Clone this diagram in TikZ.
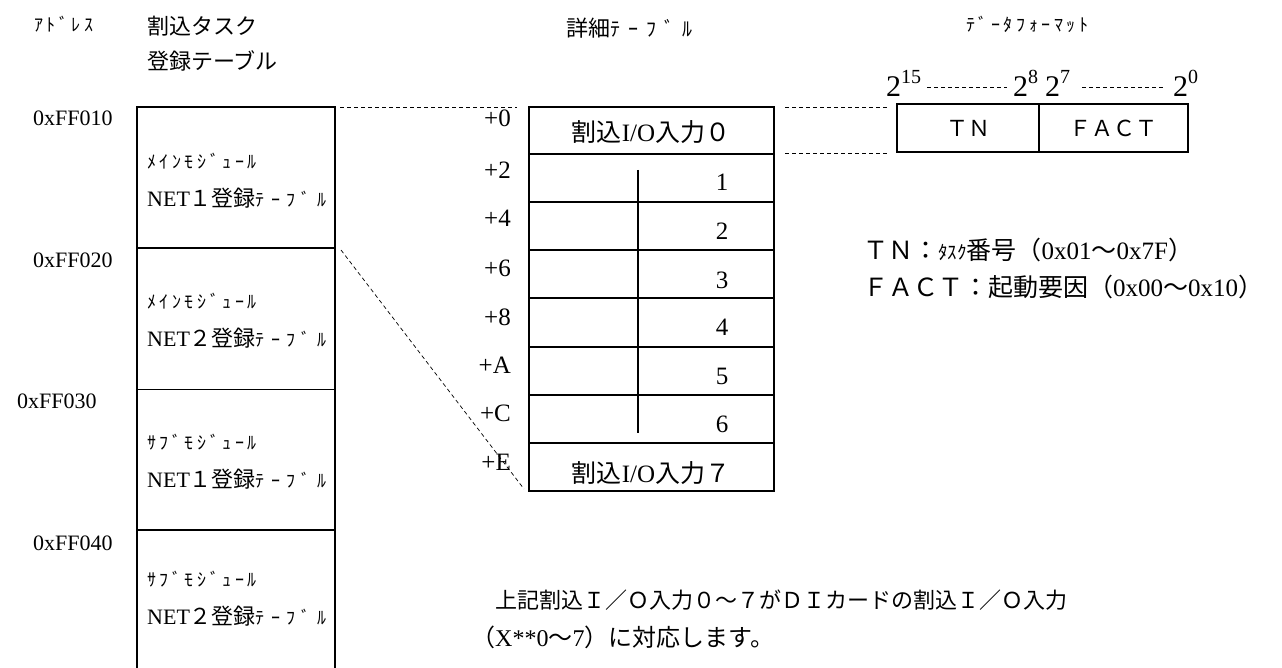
\documentclass[tikz,border=0pt]{standalone}
\usepackage{fontspec}
\setmainfont{Liberation Serif}
\newfontfamily\jpf{Noto Sans CJK JP}
\newfontfamily\hkf{Noto Sans CJK JP}[LetterSpace=20]
\newfontfamily\hkwf{Noto Sans CJK JP}[LetterSpace=35]
\newfontfamily\hkxf{Noto Sans CJK JP}[LetterSpace=40]
\newcommand\jp[1]{{\jpf #1}}
\newcommand\hk[1]{{\hkf\fontsize{18}{20}\selectfont #1}}
\newcommand\hkw[1]{{\hkwf\fontsize{18}{20}\selectfont #1}}
\newcommand\hkx[1]{{\hkxf\fontsize{20}{22}\selectfont #1}}
\begin{document}
\begin{tikzpicture}[x=1pt,y=-1pt,
  font=\fontsize{22}{26}\selectfont,
  tbl/.style={line width=1.6pt},
  thinl/.style={line width=0.9pt},
  dsh/.style={line width=0.7pt, dash pattern=on 4pt off 3pt},
  lbl/.style={anchor=west, inner sep=0pt},
  lblr/.style={anchor=east, inner sep=0pt, font=\fontsize{25}{28}\selectfont},
  cen/.style={inner sep=0pt},
  big/.style={font=\fontsize{25}{28}\selectfont},
  pw/.style={anchor=base west, inner sep=0pt, font=\fontsize{30}{32}\selectfont}]
\useasboundingbox (0,0) rectangle (1282,668);
% headers
\node[lbl] (hAddr) at (34,24) {\hk{ｱﾄﾞﾚｽ}};
\node[lbl] (hTask1) at (147,26) {\jp{割込タスク}};
\node[lbl] (hTask2) at (147,61) {\jp{登録テーブル}};
\node[lbl] (hDetail) at (566,28) {\jp{詳細}\hkx{ﾃｰﾌﾞﾙ}};
\node[lbl] (hFormat) at (966,24) {\hk{ﾃﾞｰﾀﾌｫｰﾏｯﾄ}};
% addresses
\node[lbl] (a1) at (33,118) {0xFF010};
\node[lbl] (a2) at (33,260) {0xFF020};
\node[lbl] (a3) at (17,401) {0xFF030};
\node[lbl] (a4) at (33,543) {0xFF040};
% left table
\draw[tbl] (137,668) -- (137,107) -- (335,107) -- (335,668);
\draw[tbl] (137,248) -- (335,248);
\draw[thinl] (137,389) -- (335,389);
\draw[tbl] (137,530) -- (335,530);
\coordinate (LTop) at (340,107);
\coordinate (LMid) at (341,250);
\node[lbl] (c1a) at (147,161) {\hk{ﾒｲﾝﾓｼﾞｭｰﾙ}};
\node[lbl] (c1b) at (147,198) {NET\jp{１登録}\hkw{ﾃｰﾌﾞﾙ}};
\node[lbl] (c2a) at (147,301) {\hk{ﾒｲﾝﾓｼﾞｭｰﾙ}};
\node[lbl] (c2b) at (147,338) {NET\jp{２登録}\hkw{ﾃｰﾌﾞﾙ}};
\node[lbl] (c3a) at (147,442) {\hk{ｻﾌﾞﾓｼﾞｭｰﾙ}};
\node[lbl] (c3b) at (147,479) {NET\jp{１登録}\hkw{ﾃｰﾌﾞﾙ}};
\node[lbl] (c4a) at (147,579) {\hk{ｻﾌﾞﾓｼﾞｭｰﾙ}};
\node[lbl] (c4b) at (147,616) {NET\jp{２登録}\hkw{ﾃｰﾌﾞﾙ}};
% middle table
\draw[tbl] (529,107) rectangle (774,491);
\foreach \yy in {154,202,250,298,347,395,443} {\draw[tbl] (529,\yy) -- (774,\yy);}
\draw[tbl] (638,170) -- (638,433);
\coordinate (MTopL) at (517,107);
\coordinate (MBotL) at (524,489);
\coordinate (MTopR) at (785,107);
\coordinate (MRowR) at (785,153);
\node[cen,big] (m0) at (651,132) {\jp{割込}I/O\jp{入力０}};
\node[cen,big] (m1) at (722,182) {1};
\node[cen,big] (m2) at (722,231) {2};
\node[cen,big] (m3) at (722,280) {3};
\node[cen,big] (m4) at (722,327) {4};
\node[cen,big] (m5) at (722,376) {5};
\node[cen,big] (m6) at (722,424) {6};
\node[cen,big] (m7) at (651,473) {\jp{割込}I/O\jp{入力７}};
% offsets
\node[lblr] (o0) at (511,118) {+0};
\node[lblr] (o2) at (511,170) {+2};
\node[lblr] (o4) at (511,218) {+4};
\node[lblr] (o6) at (511,268) {+6};
\node[lblr] (o8) at (511,317) {+8};
\node[lblr] (oA) at (511,365) {+A};
\node[lblr] (oC) at (511,413) {+C};
\node[lblr] (oE) at (511,462) {+E};
% dashed connectors
\draw[dsh] (LTop) -- (MTopL);
\draw[dsh] (LMid) -- (MBotL);
% data format
\draw[tbl] (897,104) rectangle (1188,152);
\draw[tbl] (1039,104) -- (1039,152);
\coordinate (FTopL) at (887,107);
\coordinate (FBotL) at (887,153);
\draw[dsh] (MTopR) -- (FTopL);
\draw[dsh] (MRowR) -- (FBotL);
\node[cen] (tn) at (968,128) {\jp{ＴＮ}};
\node[cen] (fact) at (1113,128) {\jp{ＦＡＣＴ}};
\node[pw] (p15) at (886,97) {2\raisebox{13pt}{\fontsize{20}{20}\selectfont 15}};
\node[pw] (p8) at (1013,97) {2\raisebox{13pt}{\fontsize{20}{20}\selectfont 8}};
\node[pw] (p7) at (1045,97) {2\raisebox{13pt}{\fontsize{20}{20}\selectfont 7}};
\node[pw] (p0) at (1173,97) {2\raisebox{13pt}{\fontsize{20}{20}\selectfont 0}};
\coordinate (d1a) at (927,87);
\coordinate (d1b) at (1007,87);
\coordinate (d2a) at (1082,87);
\coordinate (d2b) at (1163,87);
\draw[dsh] (d1a) -- (d1b);
\draw[dsh] (d2a) -- (d2b);
% legend
\node[lbl,big] (lg1) at (863,250) {\jp{ＴＮ：}{\jpf\fontsize{19}{20}\selectfont ﾀｽｸ}\jp{番号（}0x01\jp{～}0x7F\jp{）}};
\node[lbl,big] (lg2) at (863,287) {\jp{ＦＡＣＴ：起動要因（}0x00\jp{～}0x10\jp{）}};
% note
\node[lbl] (n1) at (495,600) {\jp{上記割込Ｉ／Ｏ入力０～７がＤＩカードの割込Ｉ／Ｏ入力}};
\node[lbl,font=\fontsize{24}{28}\selectfont] (n2) at (471,637) {\jp{（}X**0\jp{～}7\jp{）に対応します。}};
\end{tikzpicture}
\end{document}
